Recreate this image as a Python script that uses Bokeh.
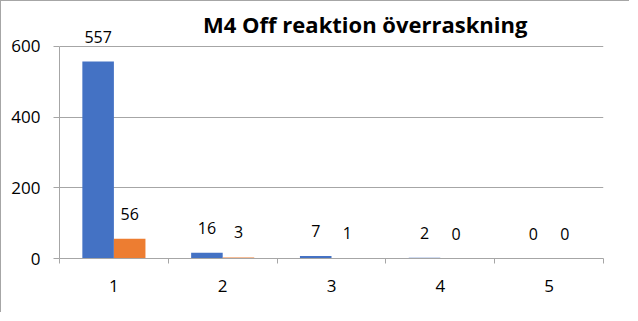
from bokeh.plotting import figure
from bokeh.models import ColumnDataSource, FixedTicker, LabelSet, Label, Range1d
from bokeh.core.properties import value
from bokeh.transform import dodge
from bokeh.embed import file_html
from bokeh.resources import INLINE

categories = ["1", "2", "3", "4", "5"]
positions = [1, 2, 3, 4, 5]
series_blue = [557, 16, 7, 2, 0]
series_orange = [56, 3, 1, 0, 0]
y_ticks = [0, 200, 400, 600]
title_text = "M4 Off reaktion överraskning"

FONT = "Open Sans"
GRID = "#a6a6a6"

src = ColumnDataSource(dict(
    x=positions,
    blue=series_blue,
    orange=series_orange,
    blue_lbl=[str(v) for v in series_blue],
    orange_lbl=[str(v) for v in series_orange],
))

p = figure(width=629, height=312, x_range=Range1d(0.5, 5.5), y_range=Range1d(0, 727),
           output_backend="svg", toolbar_location=None,
           min_border_left=58, min_border_right=27, min_border_top=0, min_border_bottom=55)
p.styles = {"border-top": "1px solid #a6a6a6", "border-left": "1px solid #a6a6a6"}
p.outline_line_color = None
p.background_fill_color = "white"
p.border_fill_color = "white"

p.add_layout(Label(x=3.31, y=662, text=title_text, text_align="center",
                   text_baseline="alphabetic", text_font=FONT, text_font_style="bold",
                   text_font_size="22px", text_color="black"))

p.vbar(x=dodge("x", -0.145, range=p.x_range), top="blue", width=0.29, source=src,
       fill_color="#4472C4", line_color=None)
p.vbar(x=dodge("x", 0.145, range=p.x_range), top="orange", width=0.29, source=src,
       fill_color="#ED7D31", line_color=None)

for col, off in (("blue", -0.145), ("orange", 0.145)):
    p.add_layout(LabelSet(x=dodge("x", off, range=p.x_range), y=col, text=col + "_lbl",
                          source=src, y_offset=25, text_align="center", text_baseline="middle",
                          text_font=value(FONT), text_font_size=value("16px"),
                          text_color=value("black")))

p.xgrid.visible = False
p.ygrid.ticker = FixedTicker(ticks=y_ticks)
p.ygrid.grid_line_color = GRID
p.ygrid.grid_line_width = 1

p.yaxis.ticker = FixedTicker(ticks=y_ticks)
p.yaxis.bounds = (0, 600)
p.yaxis.axis_line_color = GRID
p.yaxis.major_tick_line_color = GRID
p.yaxis.major_tick_out = 6
p.yaxis.major_tick_in = 0
p.yaxis.minor_tick_line_color = None
p.yaxis.major_label_standoff = 13
p.yaxis.major_label_text_font = FONT
p.yaxis.major_label_text_font_size = "17px"
p.yaxis.major_label_text_color = "black"

p.xaxis.ticker = FixedTicker(ticks=positions, minor_ticks=[0.5, 1.5, 2.5, 3.5, 4.5, 5.5])
p.xaxis.major_label_overrides = {pos: cat for pos, cat in zip(positions, categories)}
p.xaxis.axis_line_color = GRID
p.xaxis.major_tick_line_color = None
p.xaxis.major_tick_out = 5
p.xaxis.major_tick_in = 0
p.xaxis.minor_tick_line_color = GRID
p.xaxis.minor_tick_out = 5
p.xaxis.minor_tick_in = 0
p.xaxis.major_label_standoff = 16
p.xaxis.major_label_text_font = FONT
p.xaxis.major_label_text_font_size = "17px"
p.xaxis.major_label_text_color = "black"

open("out.html", "w").write(file_html(p, INLINE))
